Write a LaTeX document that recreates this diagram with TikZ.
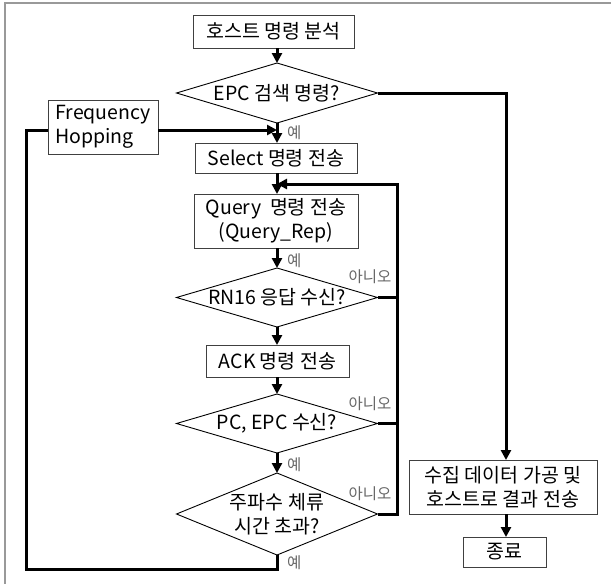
\documentclass[tikz,border=0pt]{standalone}
\usepackage{fontspec}
\setmainfont{Noto Sans CJK KR}
\usetikzlibrary{arrows.meta}
\begin{document}
\begin{tikzpicture}[x=1pt,y=1pt,
  box/.style={draw=black!75,line width=0.9pt,inner sep=0pt,outer sep=0pt,font=\fontsize{19.5}{24}\selectfont,align=center},
  dec/.style={rectangle,inner sep=0pt,outer sep=0pt,minimum width=201pt,font=\fontsize{19.5}{24}\selectfont,align=center},
  decline/.style={draw=black,line width=0.9pt,line join=miter},
  flow/.style={line width=3pt,-{Triangle[length=10pt,width=10pt]}},
  conn/.style={line width=3pt},
  lab/.style={font=\fontsize{15.5}{16}\selectfont,text=black!60,inner sep=0pt}]
\useasboundingbox (0,0) rectangle (611,-584);
\draw[black!40,line width=2pt] (5,-584) -- (5,-3) -- (611,-3);

\node[box,minimum width=161pt,minimum height=33pt] (host) at (273.5,-31.5) {호스트 명령 분석};
\node[dec,minimum height=60pt] (epc) at (277,-93) {EPC 검색 명령?};
\node[box,minimum width=110pt,minimum height=54pt,align=left] (freq) at (103,-127) {Frequency\\Hopping};
\node[box,minimum width=162pt,minimum height=30pt] (select) at (276,-158) {Select 명령 전송};
\node[box,minimum width=164pt,minimum height=54pt] (query) at (276,-221) {Query\ \ 명령 전송\\(Query\_Rep)};
\node[dec,minimum height=59pt] (rn) at (277,-297.5) {RN16 응답 수신?};
\node[box,minimum width=143pt,minimum height=32pt] (ack) at (277.5,-361) {ACK 명령 전송};
\node[dec,minimum height=59pt] (pc) at (277,-423.5) {PC, EPC 수신?};
\node[dec,minimum height=82pt] (tm) at (277,-514) {주파수 체류\\시간 초과?};
\node[box,minimum width=188pt,minimum height=54pt] (collect) at (503,-487) {수집 데이터 가공 및\\호스트로 결과 전송};
\node[box,minimum width=83pt,minimum height=30pt] (end) at (504.5,-552) {종료};

\foreach \d in {epc,rn,pc,tm}
  \draw[decline] (\d.north) -- (\d.east) -- (\d.south) -- (\d.west) -- cycle;

\coordinate (j1) at (277,-130);
\coordinate (rx) at (397.7,-184);
\coordinate (bl) at (26,-569);
\coordinate (rr) at (506,-94);

\draw[flow] (host.south -| epc.north) -- (epc.north);
\draw[flow] (epc.south) -- (select.north -| epc.south);
\draw[flow] (freq.east |- j1) -- (j1);
\draw[flow] (select.south -| epc.south) -- (query.north -| epc.south);
\draw[flow] (query.south -| epc.south) -- (rn.north);
\draw[flow] (rn.south) -- (ack.north -| rn.south);
\draw[flow] (ack.south -| pc.north) -- (pc.north);
\draw[flow] (pc.south) -- (tm.north);
\draw[flow] (tm.east) -| (rx) -- (rx -| epc.south);
\draw[conn] (rn.east) -- (rn.east -| rx);
\draw[conn] (pc.east) -- (pc.east -| rx);
\draw[conn] (tm.south) |- (bl) |- (freq.west |- j1);
\draw[flow] (epc.east) -| (collect.north -| rr);
\draw[flow] (collect.south -| rr) -- (end.north -| rr);

\node[lab,anchor=west] (y1) at (287,-133) {예};
\node[lab,anchor=west] (y2) at (287,-261) {예};
\node[lab] (n1) at (370,-277) {아니오};
\node[lab] (n2) at (370,-404) {아니오};
\node[lab,anchor=west] (y3) at (287,-465) {예};
\node[lab] (n3) at (370,-494) {아니오};
\node[lab,anchor=west] (y4) at (287,-563) {예};
\end{tikzpicture}
\end{document}
